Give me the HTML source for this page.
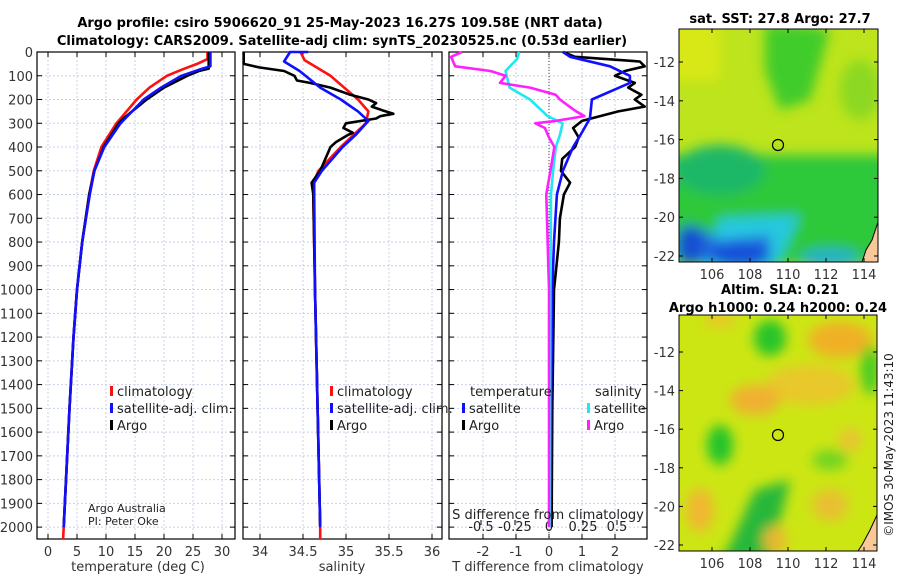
<!DOCTYPE html>
<html><head><meta charset="utf-8"><style>
body{margin:0;background:#fff;}
svg{display:block;font-family:"DejaVu Sans","Liberation Sans",sans-serif;}
</style></head><body>
<svg id="c" width="900" height="580" viewBox="0 0 900 580">
<defs>
<filter id="bl" x="-20%" y="-20%" width="140%" height="140%"><feGaussianBlur stdDeviation="6"/></filter>
<clipPath id="cm1"><rect x="679" y="29" width="199" height="233"/></clipPath>
<clipPath id="cm2"><rect x="679" y="315" width="198" height="236"/></clipPath>
</defs>
<text x="340" y="27" text-anchor="middle" font-size="13" font-weight="bold">Argo profile: csiro 5906620_91 25-May-2023 16.27S 109.58E (NRT data)</text>
<text x="342" y="45" text-anchor="middle" font-size="13" font-weight="bold">Climatology: CARS2009. Satellite-adj clim: synTS_20230525.nc (0.53d earlier)</text>
<g id="maps">
<text x="780" y="23" text-anchor="middle" font-size="13" font-weight="bold">sat. SST: 27.8 Argo: 27.7</text>
<g clip-path="url(#cm1)">
<rect x="679" y="29" width="199" height="233" fill="#bde41c"/>
<g filter="url(#bl)">
<rect x="660" y="20" width="60" height="60" fill="#d8e818"/>
<polygon points="765,25 800,25 830,30 810,100 780,110 765,70" fill="#40cc2c"/>
<ellipse cx="860" cy="90" rx="20" ry="30" fill="#8cd820"/>
<rect x="660" y="155" width="240" height="110" fill="#2ec83a"/>
<ellipse cx="720" cy="170" rx="45" ry="25" fill="#1cb868"/>
<polygon points="720,218 800,215 775,270 700,270" fill="#28c8e0"/>
<polygon points="679,230 700,228 720,240 770,235 770,262 679,262" fill="#2070e0"/>
<ellipse cx="740" cy="255" rx="30" ry="12" fill="#1850d8"/>
<ellipse cx="690" cy="245" rx="14" ry="20" fill="#1850d0"/>
<ellipse cx="830" cy="258" rx="30" ry="10" fill="#28b0c8"/>
</g>
</g>
<rect x="679" y="29" width="199" height="233" fill="none" stroke="#000" stroke-width="1"/>
<circle cx="778" cy="145" r="5.5" fill="none" stroke="#000" stroke-width="1.2"/>
<path d="M878 222 L872 240 L866 250 L862 262 L878 262 Z" fill="#f8c898" stroke="#000"/>
<text x="780" y="294" text-anchor="middle" font-size="13" font-weight="bold">Altim. SLA: 0.21</text>
<text x="778" y="312" text-anchor="middle" font-size="13" font-weight="bold">Argo h1000: 0.24 h2000: 0.24</text>
<g clip-path="url(#cm2)">
<rect x="679" y="315" width="198" height="236" fill="#cce614"/>
<g filter="url(#bl)">
<ellipse cx="770" cy="338" rx="16" ry="18" fill="#28c42a"/>
<ellipse cx="720" cy="320" rx="16" ry="8" fill="#e8c828"/>
<ellipse cx="840" cy="340" rx="32" ry="18" fill="#f0b028"/>
<ellipse cx="810" cy="385" rx="45" ry="20" fill="#e8c82c"/>
<ellipse cx="755" cy="400" rx="25" ry="15" fill="#f0b030"/>
<ellipse cx="720" cy="445" rx="13" ry="20" fill="#20c42a"/>
<ellipse cx="870" cy="370" rx="10" ry="25" fill="#4ccc20"/>
<ellipse cx="700" cy="510" rx="14" ry="22" fill="#f0b830"/>
<polygon points="730,545 755,490 790,480 770,560 720,560" fill="#28b83a"/>
<ellipse cx="775" cy="540" rx="12" ry="14" fill="#e8b830"/>
<ellipse cx="830" cy="505" rx="18" ry="16" fill="#e8c030"/>
<ellipse cx="830" cy="460" rx="18" ry="10" fill="#70d420"/>
<ellipse cx="850" cy="440" rx="12" ry="12" fill="#e8c430"/>
</g>
</g>
<rect x="679" y="315" width="198" height="236" fill="none" stroke="#000" stroke-width="1"/>
<circle cx="778" cy="435" r="5.5" fill="none" stroke="#000" stroke-width="1.2"/>
<path d="M877 515 L870 530 L862 545 L858 551 L877 551 Z" fill="#f8c898" stroke="#000"/>
<text transform="translate(893,445) rotate(-90)" text-anchor="middle" font-size="12" fill="#222">©IMOS 30-May-2023 11:43:10</text>
</g>
</svg>
<script>
// ---- data ----
const depthTicks=[0,100,200,300,400,500,600,700,800,900,1000,1100,1200,1300,1400,1500,1600,1700,1800,1900,2000];
const tempTicks=[0,5,10,15,20,25,30];
const salTicks=[34,34.5,35,35.5,36];
const salTickLabels=["34","34.5","35","35.5","36"];
const tdTicks=[-2,-1,0,1,2];
const sdTicks=[-0.5,-0.25,0,0.25,0.5];
const sdTickLabels=["-0.5","-0.25","0","0.25","0.5"];
const lonTicks=[106,108,110,112,114];
const latTicks=[-12,-14,-16,-18,-20,-22];

const tClimDepth=[0,30,50,75,100,150,200,300,400,500,600,800,1000,1200,1500,2000,2050];
const tClim=[27.5,27.5,25.7,23,20.5,17.5,15.3,11.8,9.2,7.9,7.1,5.9,5.0,4.4,3.7,2.7,2.6];
const tSatDepth=[0,60,75,100,150,200,300,400,500,600,800,1000,1200,1500,2000];
const tSat=[28,28,26,23,19.5,16.5,12.5,9.7,8.0,7.2,5.9,5.0,4.4,3.7,2.7];
const tArgoDepth=[0,70,80,100,150,200,250,280,300,400,500,600,800,1000,1200,1500,2000];
const tArgo=[27.7,27.7,26,24,20,17,14.5,13,12.2,9.6,8.0,7.1,5.9,5.0,4.4,3.7,2.7];

const sClimDepth=[0,35,100,200,250,300,400,500,550,600,1000,1500,2000,2050];
const sClim=[34.47,34.52,34.82,35.14,35.26,35.23,34.94,34.68,34.62,34.62,34.64,34.67,34.7,34.7];
const sSatDepth=[0,0,40,80,150,200,250,290,350,400,500,550,600,1000,1500,2000];
const sSat=[34.56,34.35,34.28,34.46,34.7,34.94,35.14,35.26,35.11,34.96,34.72,34.63,34.63,34.64,34.67,34.7];
const sArgoDepth=[0,50,65,80,100,120,130,150,180,200,215,230,245,260,270,280,300,320,340,350,380,400,500,550,600,1000,1500,2000];
const sArgo=[33.81,33.81,33.99,34.28,34.4,34.43,34.58,34.82,35.05,35.26,35.35,35.3,35.42,35.55,35.4,35.35,35.0,34.97,35.08,35.02,34.88,34.82,34.7,34.6,34.62,34.64,34.67,34.7];

const dTSatDepth=[0,20,60,100,130,200,280,350,400,500,600,800,1000,1500,2000];
const dTSat=[0.42,0.64,1.85,2.45,2.45,1.3,1.24,0.95,0.73,0.42,0.24,0.15,0.1,0.06,0.05];
const dTArgoDepth=[0,20,40,60,80,100,130,150,180,200,230,250,290,320,360,400,450,500,550,600,700,800,1000,1500,2000];
const dTArgo=[0.42,0.79,2.75,2.9,2.3,2.0,2.6,2.4,2.8,2.6,2.9,2.1,1.0,0.73,0.9,0.79,0.4,0.36,0.64,0.45,0.33,0.3,0.15,0.1,0.08];
const dSSatDepth=[0,30,80,150,200,270,300,350,400,500,600,1000,2000];
const dSSat=[-0.22,-0.235,-0.32,-0.29,-0.14,-0.01,0.1,0.08,0.05,0.03,0.015,0.01,0.005];
const dSArgoDepth=[0,20,60,80,100,130,150,180,200,230,250,270,290,300,320,360,400,500,600,1000,2000];
const dSArgo=[-0.64,-0.72,-0.69,-0.43,-0.32,-0.36,-0.14,0.05,0.08,0.15,0.2,0.26,0.05,-0.1,-0.03,0.0,0.04,0.01,-0.02,0.0,0.0];

// ---- drawing ----
const NS='http://www.w3.org/2000/svg';
const svg=document.getElementById('c');
function mk(tag,attrs,parent){const e=document.createElementNS(NS,tag);for(const k in attrs)e.setAttribute(k,attrs[k]);(parent||svg).appendChild(e);return e;}
const top0=52,bot=539;
const yD=d=>top0+d*(bot-top0)/2050;
const panels=[
 {x0:37,x1:235,f:t=>48+5.8*t},
 {x0:243,x1:442,f:s=>260+86*(s-34)},
 {x0:449,x1:647,f:t=>549+33*t}
];
const fS=s=>549+136*s;
panels.forEach((p,i)=>{
 const g=mk('g',{});
 
 
 depthTicks.forEach(d=>{const l=mk('line',{x1:p.x0,x2:p.x1,y1:yD(d),y2:yD(d),stroke:'#c8d0e8','stroke-dasharray':'2,2','stroke-width':1},g);
  
  mk('line',{x1:p.x0,x2:p.x0+5,y1:yD(d),y2:yD(d),stroke:'#000'},g);mk('line',{x1:p.x1-5,x2:p.x1,y1:yD(d),y2:yD(d),stroke:'#000'},g);});
 const xt=i==0?tempTicks:i==1?salTicks:tdTicks;
 xt.forEach((v,j)=>{const x=p.f(v);
  const l=mk('line',{x1:x,x2:x,y1:top0,y2:bot,stroke:'#c8d0e8','stroke-dasharray':'2,2'},g);
  
  mk('line',{x1:x,x2:x,y1:bot-5,y2:bot,stroke:'#000'},g);mk('line',{x1:x,x2:x,y1:top0,y2:top0+5,stroke:'#000'},g);
  const t=mk('text',{x:x,y:bot+17,'text-anchor':'middle','font-size':13,fill:'#333'},g);
  t.textContent=i==1?salTickLabels[j]:String(v);
  });
 const fr=mk('rect',{x:p.x0,y:top0,width:p.x1-p.x0,height:bot-top0,fill:'none',stroke:'#000','stroke-width':1.2},g);
 
});
depthTicks.forEach(d=>{const t=mk('text',{x:33,y:yD(d)+5,'text-anchor':'end','font-size':13,fill:'#333'});t.textContent=String(d);
 });
sdTicks.forEach((v,j)=>{const x=fS(v);mk('line',{x1:x,x2:x,y1:bot-14,y2:bot-19,stroke:'#000'});
 const t=mk('text',{x:x,y:bot-8,'text-anchor':'middle','font-size':13,fill:'#222'});t.textContent=sdTickLabels[j];
 });
mk('line',{x1:549,x2:549,y1:top0,y2:bot,stroke:'#444','stroke-dasharray':'1,2'});
function line(depths,vals,f,color,name,w){
 const pts=depths.map((d,i)=>f(vals[i]).toFixed(1)+','+yD(d).toFixed(1)).join(' ');
 const e=mk('polyline',{points:pts,fill:'none',stroke:color,'stroke-width':w||2.6,'stroke-linejoin':'round'});
 
 
}
line(tClimDepth,tClim,panels[0].f,'#ff1010','temp-climatology-line');
line(tArgoDepth,tArgo,panels[0].f,'#000','temp-argo-line');
line(tSatDepth,tSat,panels[0].f,'#1010ff','temp-satellite-line');
line(sClimDepth,sClim,panels[1].f,'#ff1010','sal-climatology-line');
line(sArgoDepth,sArgo,panels[1].f,'#000','sal-argo-line');
line(sSatDepth,sSat,panels[1].f,'#1010ff','sal-satellite-line');
line(dTArgoDepth,dTArgo,panels[2].f,'#000','tdiff-argo-line');
line(dTSatDepth,dTSat,panels[2].f,'#1010ff','tdiff-satellite-line');
line(dSSatDepth,dSSat,fS,'#20e8f0','sdiff-satellite-line');
line(dSArgoDepth,dSArgo,fS,'#ff20ff','sdiff-argo-line');
function txt(x,y,s,name,opts){const t=mk('text',Object.assign({x:x,y:y,'font-size':13,fill:'#222'},opts||{}));t.textContent=s;
 return t;}
function leg(x,y,c,s,name){const r=mk('rect',{x:x,y:y-10,width:3,height:10,fill:c});txt(x+7,y,s,name);}
leg(110,396,'#ff1010','climatology','legend-t-climatology');
leg(110,413,'#1010ff','satellite-adj. clim.','legend-t-satellite');
leg(110,430,'#000','Argo','legend-t-argo');
leg(330,396,'#ff1010','climatology','legend-s-climatology');
leg(330,413,'#1010ff','satellite-adj. clim.','legend-s-satellite');
leg(330,430,'#000','Argo','legend-s-argo');
txt(470,396,'temperature','legend-temperature-heading');
txt(595,396,'salinity','legend-salinity-heading');
leg(462,413,'#1010ff','satellite','legend-tdiff-satellite');
leg(462,430,'#000','Argo','legend-tdiff-argo');
leg(587,413,'#20e8f0','satellite','legend-sdiff-satellite');
leg(587,430,'#ff20ff','Argo','legend-sdiff-argo');
txt(88,512,'Argo Australia','credit-argo-australia',{'font-size':11});
txt(88,525,'PI: Peter Oke','credit-pi',{'font-size':11});
txt(138,571,'temperature (deg C)','x-axis-title-temperature',{'text-anchor':'middle','fill':'#333'});
txt(342,571,'salinity','x-axis-title-salinity',{'text-anchor':'middle','fill':'#333'});
txt(548,571,'T difference from climatology','x-axis-title-tdiff',{'text-anchor':'middle','fill':'#333'});
txt(548,519,'S difference from climatology','s-diff-axis-title',{'text-anchor':'middle'});
function mapAxes(x0,y0,x1,y1,latPos,withLon,prefix){
 if(withLon) lonTicks.forEach((v,i)=>{const x=712+(v-106)*19;mk('line',{x1:x,x2:x,y1:y1-4,y2:y1,stroke:'#000'});mk('line',{x1:x,x2:x,y1:y0,y2:y0+4,stroke:'#000'});
  txt(x,y1+17,String(v),prefix+'-lon-tick-label',{'text-anchor':'middle','fill':'#333'});});
 latTicks.forEach(v=>{const y=latPos(v);mk('line',{x1:x1-4,x2:x1,y1:y,y2:y,stroke:'#000'});mk('line',{x1:x0,x2:x0+4,y1:y,y2:y,stroke:'#000'});
  txt(x0-4,y+5,String(v),prefix+'-lat-tick-label',{'text-anchor':'end','fill':'#333'});});
}
mapAxes(679,29,878,262,v=>62+(-12-v)*19.4,true,'sst');
mapAxes(679,315,877,551,v=>352+(-12-v)*19.3,true,'sla');
</script>
</body></html>
